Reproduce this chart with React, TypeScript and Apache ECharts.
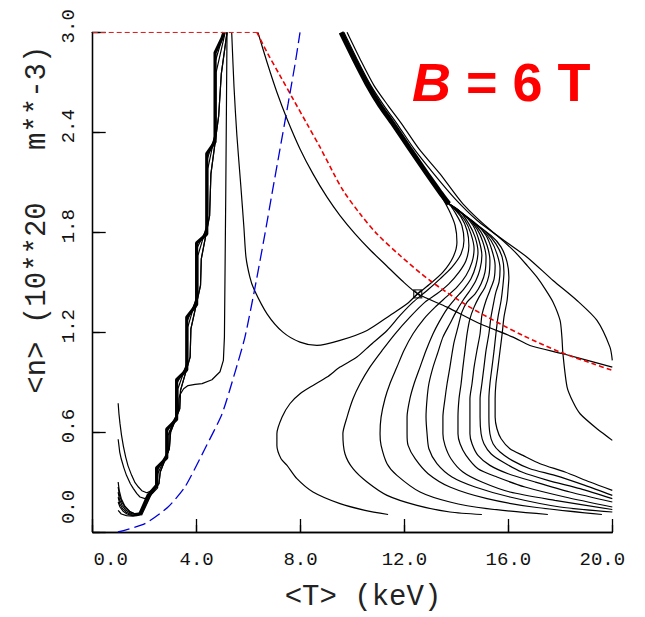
import React, { useEffect, useRef } from "react";
import * as echarts from "echarts";

// ---- axis ticks ----
const xTicks = [0, 4, 8, 12, 16, 20];
const yTicks = [0, 0.6, 1.2, 1.8, 2.4, 3.0];

// ---- red dashed curve (T keV, n 1e20 m^-3) ----
const redTopEdge: number[][] = [[0, 3.0], [6.32, 3.0]];
const redCurve: number[][] = [[6.32, 3.0], [6.71, 2.88], [7.21, 2.74], [7.71, 2.6], [8.25, 2.45], [8.75, 2.31], [9.25, 2.16], [9.64, 2.05], [10.29, 1.91], [10.94, 1.79], [11.83, 1.66], [12.98, 1.51], [14.41, 1.36], [15.68, 1.25], [16.56, 1.18], [17.99, 1.08], [19.26, 1.01], [20.0, 0.97]];

// ---- blue dash curve ----
const blueCurve: number[][] = [[0.97, 0.0], [2.01, 0.05], [2.9, 0.15], [3.55, 0.27], [4.32, 0.5], [4.98, 0.71], [5.48, 0.96], [5.86, 1.17], [6.25, 1.47], [6.63, 1.79], [6.9, 2.03], [7.21, 2.3], [7.52, 2.57], [7.79, 2.81], [7.98, 3.0]];

// ---- left staircase bundle ----
const stair1: number[][] = [[1.82, 0.11], [2.13, 0.22], [2.46, 0.28], [2.46, 0.385], [2.85, 0.445], [2.85, 0.617], [3.23, 0.676], [3.23, 0.914], [3.62, 0.974], [3.62, 1.289], [4.0, 1.366], [4.0, 1.735], [4.39, 1.789], [4.39, 2.271], [4.71, 2.343], [4.71, 2.877], [4.98, 2.966], [5.05, 3.0]];
const stair2: number[][] = [[1.82, 0.105], [2.13, 0.205], [2.44, 0.27], [2.46, 0.37], [2.85, 0.46], [2.85, 0.6], [3.23, 0.7], [3.23, 0.89], [3.62, 1.0], [3.62, 1.26], [4.0, 1.4], [4.0, 1.7], [4.39, 1.82], [4.39, 2.23], [4.71, 2.38], [4.71, 2.82], [5.05, 3.0]];
const stair3: number[][] = [[1.85, 0.1], [2.2, 0.215], [2.5, 0.265], [2.5, 0.35], [2.9, 0.48], [2.9, 0.58], [3.28, 0.72], [3.28, 0.86], [3.66, 1.03], [3.66, 1.23], [4.05, 1.44], [4.05, 1.66], [4.43, 1.86], [4.43, 2.18], [4.75, 2.42], [4.75, 2.76], [5.1, 3.0]];
const stair4: number[][] = [[1.88, 0.1], [2.25, 0.225], [2.55, 0.29], [2.6, 0.36], [2.95, 0.5], [3.0, 0.6], [3.35, 0.74], [3.38, 0.85], [3.75, 1.05], [3.78, 1.22], [4.15, 1.48], [4.18, 1.64], [4.5, 1.9], [4.55, 2.15], [4.85, 2.5], [4.95, 2.75], [5.17, 3.0]];

// ---- small left branches of the bundle ----
const branch1: number[][] = [[0.98, 0.3], [1.02, 0.25], [1.1, 0.2], [1.24, 0.155], [1.42, 0.125], [1.62, 0.11], [1.85, 0.115]];
const branch2: number[][] = [[0.98, 0.27], [1.03, 0.22], [1.12, 0.18], [1.26, 0.145], [1.44, 0.12], [1.64, 0.108], [1.85, 0.112]];
const branch3: number[][] = [[0.98, 0.24], [1.03, 0.195], [1.13, 0.16], [1.28, 0.13], [1.46, 0.112], [1.66, 0.104], [1.85, 0.11]];
const branch4: number[][] = [[0.98, 0.21], [1.04, 0.17], [1.15, 0.14], [1.3, 0.118], [1.48, 0.105], [1.68, 0.1], [1.85, 0.108]];
const branch5: number[][] = [[0.98, 0.18], [1.05, 0.15], [1.17, 0.125], [1.32, 0.108], [1.5, 0.1], [1.7, 0.098], [1.85, 0.106]];
const branch6: number[][] = [[0.98, 0.13], [1.1, 0.108], [1.3, 0.098], [1.55, 0.095], [1.85, 0.104]];
const uSecond: number[][] = [[0.98, 0.557], [1.04, 0.48], [1.1, 0.438], [1.2, 0.385], [1.3, 0.34], [1.45, 0.29], [1.56, 0.262], [1.7, 0.23], [1.82, 0.21], [2.01, 0.2], [2.25, 0.225], [2.55, 0.29], [2.6, 0.36], [2.95, 0.5], [3.0, 0.6], [3.35, 0.74], [3.38, 0.85], [3.75, 1.05], [3.78, 1.22], [4.15, 1.48], [4.18, 1.64], [4.5, 1.9], [4.55, 2.15], [4.85, 2.5], [4.95, 2.75], [5.17, 3.0]];
const uTop: number[][] = [[0.98, 0.773], [1.01, 0.71], [1.05, 0.652], [1.11, 0.58], [1.18, 0.516], [1.27, 0.45], [1.36, 0.397], [1.5, 0.34], [1.63, 0.296], [1.76, 0.27], [1.89, 0.248], [2.08, 0.236], [2.3, 0.25], [2.48, 0.29], [2.52, 0.38], [2.92, 0.49], [2.95, 0.6], [3.3, 0.73], [3.32, 0.8], [3.36, 0.825], [3.5, 0.86], [3.67, 0.879], [3.94, 0.886], [4.21, 0.891], [4.59, 0.914], [4.9, 0.962], [5.03, 1.03], [5.07, 1.17], [5.12, 2.0], [5.17, 3.0]];

// ---- U-shaped curve through the operating point ----
const uCurve: number[][] = [[5.35, 3.0], [5.44, 2.67], [5.55, 2.38], [5.7, 2.08], [5.82, 1.83], [5.9, 1.65], [6.05, 1.53], [6.2, 1.46], [6.71, 1.31], [7.32, 1.2], [7.98, 1.14], [8.63, 1.12], [9.52, 1.15], [10.56, 1.21], [11.44, 1.3], [12.1, 1.37], [12.51, 1.43], [12.99, 1.49], [13.48, 1.56], [13.87, 1.65], [14.02, 1.74], [13.95, 1.84], [13.72, 1.93], [13.37, 2.03]];

// ---- curve crossing the operating point ----
const crossCurve: number[][] = [[6.36, 3.0], [6.71, 2.82], [7.09, 2.64], [7.48, 2.48], [7.98, 2.3], [8.48, 2.15], [9.02, 2.01], [9.52, 1.9], [10.1, 1.79], [10.7, 1.69], [11.3, 1.6], [11.9, 1.51], [12.51, 1.43], [13.64, 1.35], [14.91, 1.25], [16.18, 1.17], [16.83, 1.12], [18.1, 1.07], [20.0, 0.99]];

// ---- upper right bundle ----
const bundleTop: number[][] = [[9.56, 3.0], [10.06, 2.84], [10.56, 2.69], [11.06, 2.56], [11.56, 2.45], [12.21, 2.3], [12.87, 2.15], [13.37, 2.04], [13.71, 1.97]];
const right1: number[][] = [[9.67, 3.0], [10.17, 2.84], [10.71, 2.68], [11.21, 2.56], [11.76, 2.44], [12.37, 2.3], [13.13, 2.15], [13.95, 2.0], [14.8, 1.87], [15.56, 1.78], [16.26, 1.68], [16.72, 1.6], [17.1, 1.53], [17.41, 1.46], [17.72, 1.38], [17.99, 1.27], [18.06, 1.17], [18.1, 1.07], [18.26, 0.87], [18.49, 0.78], [18.76, 0.71], [19.41, 0.62], [20.0, 0.55]];
const right2: number[][] = [[9.79, 3.0], [10.29, 2.84], [10.83, 2.68], [11.37, 2.56], [11.94, 2.44], [12.56, 2.3], [13.37, 2.15], [14.25, 1.97], [15.41, 1.8], [16.72, 1.65], [17.72, 1.51], [18.64, 1.39], [19.41, 1.27], [19.91, 1.11], [20.0, 1.03]];

// ---- fan of contours ----
const fan1: number[][] = [[13.64, 1.99], [13.98, 1.91], [14.21, 1.84], [14.29, 1.75], [14.18, 1.67], [13.83, 1.59], [13.37, 1.52], [12.87, 1.45], [12.33, 1.38], [11.83, 1.3], [11.33, 1.21], [10.67, 1.12], [10.17, 1.05], [9.52, 0.99], [9.02, 0.93], [8.48, 0.88], [7.98, 0.83], [7.59, 0.77], [7.29, 0.69], [7.09, 0.59], [7.09, 0.52], [7.25, 0.44], [7.48, 0.4], [7.86, 0.32], [8.48, 0.24], [9.52, 0.17], [10.48, 0.13], [11.37, 0.105]];
const fan2: number[][] = [[13.71, 1.97], [13.79, 1.96], [14.18, 1.89], [14.41, 1.81], [14.48, 1.72], [14.37, 1.63], [14.1, 1.56], [13.71, 1.49], [13.25, 1.43], [12.79, 1.38], [12.21, 1.29], [11.64, 1.19], [11.14, 1.09], [10.67, 0.99], [10.29, 0.89], [10.02, 0.8], [9.79, 0.69], [9.63, 0.59], [9.71, 0.47], [10.02, 0.38], [10.56, 0.3], [11.33, 0.22], [12.48, 0.16], [13.75, 0.12], [14.98, 0.105]];
const fan3: number[][] = [[13.71, 1.97], [13.95, 1.94], [14.33, 1.87], [14.56, 1.79], [14.68, 1.7], [14.6, 1.62], [14.37, 1.54], [14.02, 1.47], [13.6, 1.41], [13.18, 1.35], [12.75, 1.28], [12.33, 1.19], [11.98, 1.09], [11.71, 0.99], [11.44, 0.89], [11.25, 0.8], [11.1, 0.69], [11.06, 0.59], [11.1, 0.52], [11.33, 0.41], [11.71, 0.34], [12.6, 0.24], [13.75, 0.18], [15.18, 0.14], [17.52, 0.105]];
const fan4: number[][] = [[13.71, 1.97], [14.1, 1.93], [14.48, 1.85], [14.72, 1.77], [14.83, 1.68], [14.75, 1.6], [14.56, 1.52], [14.29, 1.46], [13.95, 1.4], [13.64, 1.34], [13.33, 1.26], [13.1, 1.19], [12.83, 1.09], [12.6, 0.99], [12.37, 0.89], [12.21, 0.8], [12.1, 0.69], [12.1, 0.59], [12.14, 0.52], [12.41, 0.44], [12.91, 0.35], [13.75, 0.27], [15.18, 0.2], [16.95, 0.15], [19.6, 0.105]];
const fan5: number[][] = [[13.71, 1.97], [14.25, 1.91], [14.64, 1.84], [14.87, 1.75], [14.98, 1.66], [14.91, 1.58], [14.75, 1.51], [14.52, 1.45], [14.25, 1.39], [13.98, 1.32], [13.75, 1.25], [13.48, 1.17], [13.29, 1.08], [13.1, 0.99], [12.94, 0.89], [12.87, 0.8], [12.83, 0.69], [12.87, 0.59], [12.94, 0.5], [13.25, 0.41], [13.83, 0.33], [14.72, 0.27], [16.06, 0.21], [17.99, 0.15], [20.0, 0.12]];
const fan6: number[][] = [[13.71, 1.97], [14.41, 1.89], [14.79, 1.82], [15.02, 1.74], [15.14, 1.65], [15.1, 1.56], [14.95, 1.49], [14.72, 1.43], [14.41, 1.38], [14.21, 1.32], [14.06, 1.23], [13.91, 1.14], [13.83, 1.07], [13.75, 0.99], [13.64, 0.89], [13.56, 0.8], [13.48, 0.69], [13.48, 0.59], [13.56, 0.52], [13.79, 0.44], [14.25, 0.36], [14.98, 0.3], [16.06, 0.24], [17.79, 0.19], [20.0, 0.135]];
const fan7: number[][] = [[13.71, 1.97], [14.56, 1.87], [14.95, 1.8], [15.18, 1.72], [15.29, 1.63], [15.25, 1.54], [15.1, 1.47], [14.87, 1.41], [14.68, 1.35], [14.52, 1.28], [14.41, 1.19], [14.33, 1.09], [14.25, 0.99], [14.18, 0.89], [14.1, 0.8], [14.06, 0.69], [14.06, 0.59], [14.14, 0.53], [14.37, 0.46], [14.83, 0.38], [15.56, 0.33], [16.64, 0.27], [18.18, 0.21], [20.0, 0.15]];
const fan8: number[][] = [[13.71, 1.97], [14.75, 1.85], [15.14, 1.78], [15.37, 1.69], [15.49, 1.6], [15.45, 1.52], [15.29, 1.45], [15.14, 1.39], [14.98, 1.3], [14.91, 1.19], [14.79, 1.09], [14.68, 0.99], [14.6, 0.89], [14.52, 0.8], [14.52, 0.69], [14.52, 0.59], [14.6, 0.53], [14.83, 0.46], [15.29, 0.4], [15.99, 0.35], [17.03, 0.3], [18.37, 0.24], [20.0, 0.18]];
const fan9: number[][] = [[13.71, 1.97], [14.95, 1.82], [15.33, 1.75], [15.56, 1.67], [15.68, 1.58], [15.64, 1.5], [15.52, 1.44], [15.45, 1.39], [15.33, 1.29], [15.25, 1.19], [15.14, 1.09], [15.06, 0.99], [14.98, 0.89], [14.91, 0.8], [14.91, 0.69], [14.95, 0.59], [15.06, 0.53], [15.33, 0.47], [15.79, 0.42], [16.52, 0.36], [17.52, 0.31], [18.76, 0.26], [20.0, 0.2]];
const fan10: number[][] = [[13.71, 1.97], [15.14, 1.8], [15.52, 1.73], [15.76, 1.65], [15.83, 1.56], [15.79, 1.48], [15.72, 1.39], [15.6, 1.29], [15.52, 1.19], [15.45, 1.09], [15.37, 0.99], [15.29, 0.89], [15.25, 0.8], [15.25, 0.69], [15.29, 0.59], [15.41, 0.53], [15.68, 0.48], [16.14, 0.43], [16.83, 0.38], [17.79, 0.34], [18.95, 0.28], [20.0, 0.22]];
const fan11: number[][] = [[13.71, 1.97], [15.33, 1.78], [15.72, 1.71], [15.95, 1.62], [16.02, 1.53], [15.99, 1.46], [15.95, 1.39], [15.83, 1.29], [15.76, 1.19], [15.68, 1.09], [15.6, 0.99], [15.52, 0.89], [15.49, 0.8], [15.49, 0.69], [15.56, 0.62], [15.72, 0.56], [16.06, 0.5], [16.56, 0.46], [17.22, 0.41], [18.18, 0.36], [19.14, 0.3], [20.0, 0.25]];

const operatingPoint: number[][] = [[12.51, 1.43]];

const blackThin = [branch1, branch2, branch3, branch4, branch5, branch6, uSecond, uTop, stair2, stair3, stair4, uCurve, crossCurve, right1, right2, fan1, fan2, fan3, fan4, fan5, fan6, fan7, fan8, fan9, fan10, fan11];

const FONT = "Liberation Mono";

export default function App() {
  const ref = useRef<HTMLDivElement>(null);
  useEffect(() => {
    if (!ref.current) return;
    const chart = echarts.init(ref.current, undefined, { renderer: "svg" });
    const axisLine = { show: true, lineStyle: { color: "#000", width: 1.3 } };
    const series: any[] = [];
    blackThin.forEach((d, i) => {
      series.push({
        type: "line", data: d, symbol: "none", silent: true, smooth: i >= 11 ? 0.25 : false,
        lineStyle: { color: "#000", width: 1.2 }, z: 2,
      });
    });
    series.push({ type: "line", data: stair1, symbol: "none", silent: true, lineStyle: { color: "#000", width: 3.2 }, z: 3 });
    series.push({ type: "line", data: bundleTop, symbol: "none", silent: true, smooth: 0.2, lineStyle: { color: "#000", width: 5 }, z: 3 });
    series.push({ type: "line", data: redTopEdge, symbol: "none", silent: true, lineStyle: { color: "#dd2222", width: 1.2, type: [5, 3] }, z: 5 });
    series.push({ type: "line", data: redCurve, symbol: "none", silent: true, smooth: 0.3, lineStyle: { color: "#ee0000", width: 1.6, type: [5, 3] }, z: 5 });
    series.push({ type: "line", data: blueCurve, symbol: "none", silent: true, smooth: 0.2, lineStyle: { color: "#0000dd", width: 1.3, type: [12, 5] }, z: 5 });
    series.push({
      type: "scatter", data: operatingPoint, symbol: "path://M0,0L10,0L10,10L0,10Z M0,0L10,10 M10,0L0,10", symbolSize: 8,
      itemStyle: { color: "rgba(0,0,0,0)", borderColor: "#000", borderWidth: 1.3 }, z: 6, silent: true,
    });
    chart.setOption({
      animation: false,
      backgroundColor: "#fff",
      grid: { left: 92.7, right: 32.7, top: 32.3, bottom: 80.3 },
      xAxis: [
        {
          type: "value", min: 0, max: 20, interval: 4, position: "bottom",
          axisLine, splitLine: { show: false },
          axisTick: { show: true, inside: true, length: 13, lineStyle: { color: "#000", width: 1.3 } },
          axisLabel: {
            margin: 18, color: "#111", fontFamily: FONT, fontSize: 19,
            formatter: (v: number) => (v === 0 ? "{l|0.0}" : v === 20 ? "{r|20.0}" : "{m|" + v.toFixed(1) + "}"),
            rich: {
              l: { padding: [0, 0, 0, 36], fontFamily: FONT, fontSize: 19, color: "#111" },
              r: { padding: [0, 20, 0, 0], fontFamily: FONT, fontSize: 19, color: "#111" },
              m: { fontFamily: FONT, fontSize: 19, color: "#111" },
            },
          },
          name: "<T> (keV)", nameLocation: "middle", nameGap: 51,
          nameTextStyle: { fontFamily: FONT, fontSize: 29, color: "#222", padding: [0, 0, 0, 21] },
        },
        {
          type: "value", min: 0, max: 20, interval: 4, position: "top",
          axisLine, splitLine: { show: false }, axisLabel: { show: false },
          axisTick: { show: true, inside: false, length: 7, lineStyle: { color: "#000", width: 1.3 } },
        },
      ],
      yAxis: [
        {
          type: "value", min: 0, max: 3, interval: 0.6, position: "left",
          axisLine, splitLine: { show: false },
          axisTick: { show: true, inside: true, length: 13, lineStyle: { color: "#000", width: 1.3 } },
          axisLabel: {
            rotate: 90, margin: 14, color: "#111", fontFamily: FONT, fontSize: 19,
            formatter: (v: number) => (v === 0 ? "{b|0.0}" : "{a|" + v.toFixed(1) + "}"),
            rich: {
              a: { padding: [0, 0, 0, 12], fontFamily: FONT, fontSize: 19, color: "#111" },
              b: { padding: [0, 0, 0, 50], fontFamily: FONT, fontSize: 19, color: "#111" },
            },
          },
          name: "<n> (10**20   m**-3)", nameLocation: "middle", nameGap: 40,
          nameTextStyle: { fontFamily: FONT, fontSize: 29, color: "#222", padding: [0, 0, 0, 125] },
        },
        {
          type: "value", min: 0, max: 3, interval: 0.6, position: "right",
          axisLine, splitLine: { show: false }, axisLabel: { show: false },
          axisTick: { show: true, inside: false, length: 7, lineStyle: { color: "#000", width: 1.3 } },
        },
      ],
      graphic: [
        { type: "text", x: 412, y: 82, style: { text: "B", fill: "#ff0000", font: 'italic bold 54px "Liberation Sans"', align: "left", verticalAlign: "middle" } },
        { type: "text", x: 451, y: 82, style: { text: " = 6 T", fill: "#ff0000", font: 'bold 54px "Liberation Sans"', align: "left", verticalAlign: "middle" } },
      ],
      series,
    });
    return () => chart.dispose();
  }, []);
  return <div ref={ref} style={{ position: "fixed", left: 0, top: 0, width: 645, height: 617, background: "#fff" }} />;
}
